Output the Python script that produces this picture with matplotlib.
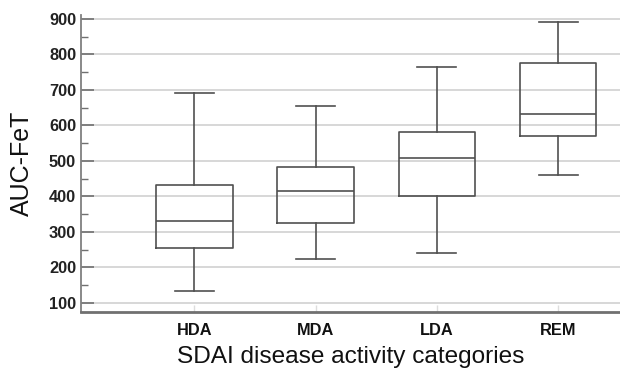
import matplotlib
matplotlib.use("Agg")
import matplotlib.pyplot as plt
from matplotlib.ticker import MultipleLocator

categories = ["HDA", "MDA", "LDA", "REM"]
whislo = [133, 223, 241, 460]
q1 = [254, 325, 402, 569]
med = [332, 415, 509, 632]
q3 = [433, 482, 582, 776]
whishi = [690, 654, 765, 892]
yticks = [100, 200, 300, 400, 500, 600, 700, 800, 900]

plt.rcParams['font.family'] = ['Liberation Sans', 'DejaVu Sans']

fig = plt.figure(figsize=(6.2, 3.72), dpi=100)
ax = fig.add_axes([81/620, 1 - 312/372, 1 - 81/620, (312 - 15)/372])

stats = []
for i, c in enumerate(categories):
    stats.append(dict(label=c, whislo=whislo[i], q1=q1[i], med=med[i],
                      q3=q3[i], whishi=whishi[i], fliers=[]))

lc = '#505050'
ax.bxp(stats, positions=range(1, 5), widths=0.632, showfliers=False,
       boxprops=dict(color=lc, linewidth=1.2),
       medianprops=dict(color=lc, linewidth=1.2),
       whiskerprops=dict(color=lc, linewidth=1.2),
       capprops=dict(color=lc, linewidth=1.2),
       capwidths=0.32)

ax.set_xlim(0.066, 4.51)
ax.set_ylim(74.6, 911)
ax.set_yticks(yticks)
ax.yaxis.set_minor_locator(MultipleLocator(50))
ax.grid(axis='y', color='#d4d4d4', linewidth=1.3)
ax.set_axisbelow(True)

for s in ['top', 'right']:
    ax.spines[s].set_visible(False)
ax.spines['left'].set_color('#808080')
ax.spines['left'].set_linewidth(1.3)
ax.spines['bottom'].set_color('#707070')
ax.spines['bottom'].set_linewidth(2.0)

ax.tick_params(axis='y', which='major', direction='in', length=9, width=1.2,
               color='#707070', labelsize=11.8, pad=3.5, labelcolor='#222222')
ax.tick_params(axis='y', which='minor', direction='in', length=5, width=1.0,
               color='#707070')
ax.tick_params(axis='x', direction='in', length=5, width=1.0, color='#dddddd',
               labelsize=11.8, pad=8, labelcolor='#111111')
for lab in ax.get_yticklabels() + ax.get_xticklabels():
    lab.set_fontweight('bold')

ax.set_ylabel('AUC-FeT', fontsize=18, labelpad=11, color='#111111')
ax.set_xlabel('SDAI disease activity categories', fontsize=17.6, labelpad=6,
              color='#111111')

fig.savefig('out.png', dpi=100)
